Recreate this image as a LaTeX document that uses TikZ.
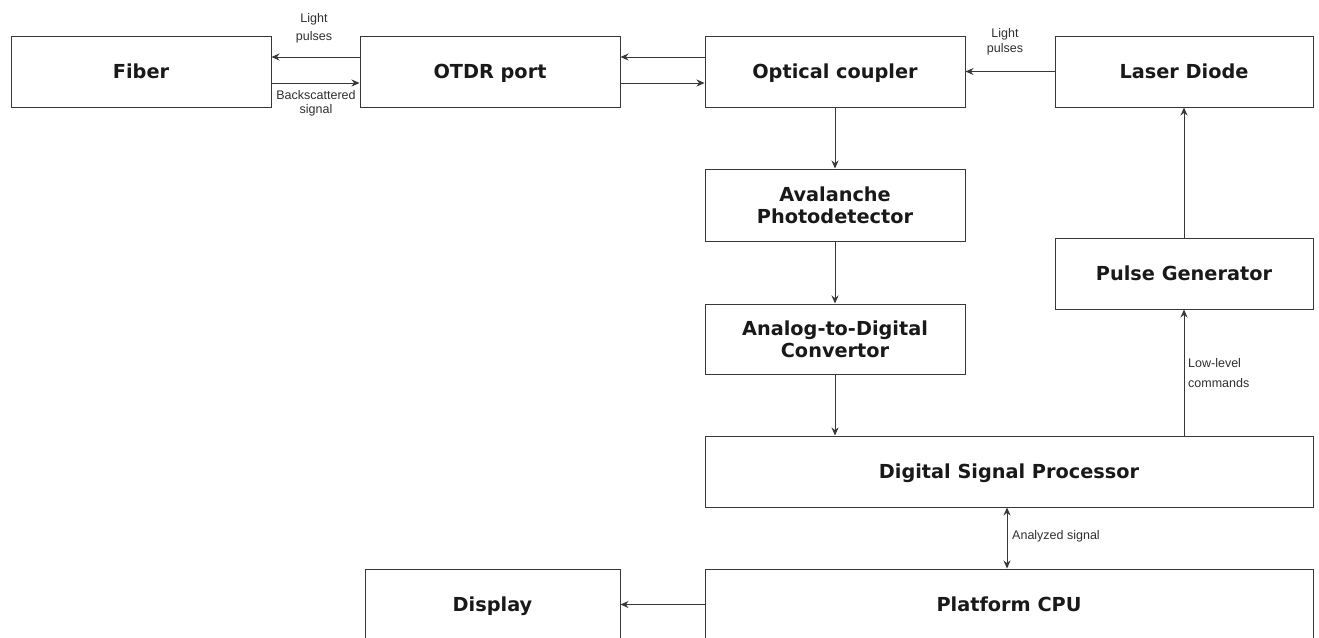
\documentclass[tikz,border=0pt]{standalone}
\usepackage{fontspec}
\setmainfont{DejaVu Sans}
\newfontfamily\lblfont{Liberation Sans}
\usetikzlibrary{arrows.meta}
\definecolor{linec}{HTML}{383838}
\definecolor{lblc}{HTML}{303030}
\tikzset{
  block/.style={draw=linec, line width=1pt, fill=white, minimum width=260pt, minimum height=71pt,
    inner sep=0pt, align=center, font=\fontsize{19.3}{22}\selectfont\bfseries, text=black!90},
  single/.style={text height=14pt, text depth=0pt},
  arr/.style={draw=linec, line width=1pt, -{Stealth[length=8pt,width=7pt]}},
  darr/.style={draw=linec, line width=1pt, {Stealth[length=8pt,width=7pt]}-{Stealth[length=8pt,width=7pt]}},
  lbl/.style={inner sep=0pt, text=lblc, font=\lblfont\fontsize{12.5}{16}\selectfont, align=center}
}
\begin{document}
\begin{tikzpicture}[x=1pt,y=-1pt]
\useasboundingbox[fill=white] (0,0) rectangle (1319,637);
\node[block, single] (fiber) at (141,71.5) {Fiber};
\node[block, single, text depth=-6pt] (otdr) at (490,71.5) {OTDR port};
\node[block, single] (coupler) at (835,71.5) {Optical coupler};
\node[block, single, minimum width=258pt] (laser) at (1184,71.5) {Laser Diode};
\node[block, minimum height=72pt] (apd) at (835,205) {Avalanche\\Photodetector};
\node[block, single, minimum width=258pt] (pulse) at (1184,273.5) {Pulse Generator};
\node[block, minimum height=70pt] (adc) at (835,339) {Analog-to-Digital\\Convertor};
\node[block, single, minimum width=608pt] (dsp) at (1009,471.5) {Digital Signal Processor};
\node[block, single, minimum width=255pt] (display) at (492.5,604.5) {Display};
\node[block, single, minimum width=608pt] (cpu) at (1009,604.5) {Platform CPU};

\draw[arr] ([yshift=14.5pt]otdr.west) -- ([yshift=14.5pt]fiber.east);
\draw[arr] ([yshift=-11.5pt]fiber.east) -- ([yshift=-11.5pt]otdr.west);
\draw[arr] ([yshift=14.5pt]coupler.west) -- ([yshift=14.5pt]otdr.east);
\draw[arr] ([yshift=-11.5pt]otdr.east) -- ([yshift=-11.5pt]coupler.west);
\draw[arr] (laser.west) -- (coupler.east);
\draw[arr] (coupler.south) -- (apd.north);
\draw[arr] (apd.south) -- (adc.north);
\draw[arr] (adc.south) -- (adc.south |- dsp.north);
\draw[arr] (pulse.south |- dsp.north) -- (pulse.south);
\draw[arr] (pulse.north) -- (laser.south);
\draw[darr] ([xshift=-2pt]dsp.south) -- ([xshift=-2pt]dsp.south |- cpu.north);
\draw[arr] (cpu.west) -- (display.east);

\node[lbl, font=\lblfont\fontsize{12.5}{18}\selectfont] (l1) at (314,28) {Light\\pulses};
\node[lbl, font=\lblfont\fontsize{12.5}{14}\selectfont] (l2) at (316,103) {Backscattered\\signal};
\node[lbl, font=\lblfont\fontsize{12.5}{15}\selectfont] (l3) at (1005,42) {Light\\pulses};
\node[lbl, anchor=west, align=left, font=\lblfont\fontsize{12.5}{20}\selectfont] (l4) at (1188,373) {Low-level\\commands};
\node[lbl, anchor=west] (l5) at (1012,536) {Analyzed signal};
\end{tikzpicture}
\end{document}
